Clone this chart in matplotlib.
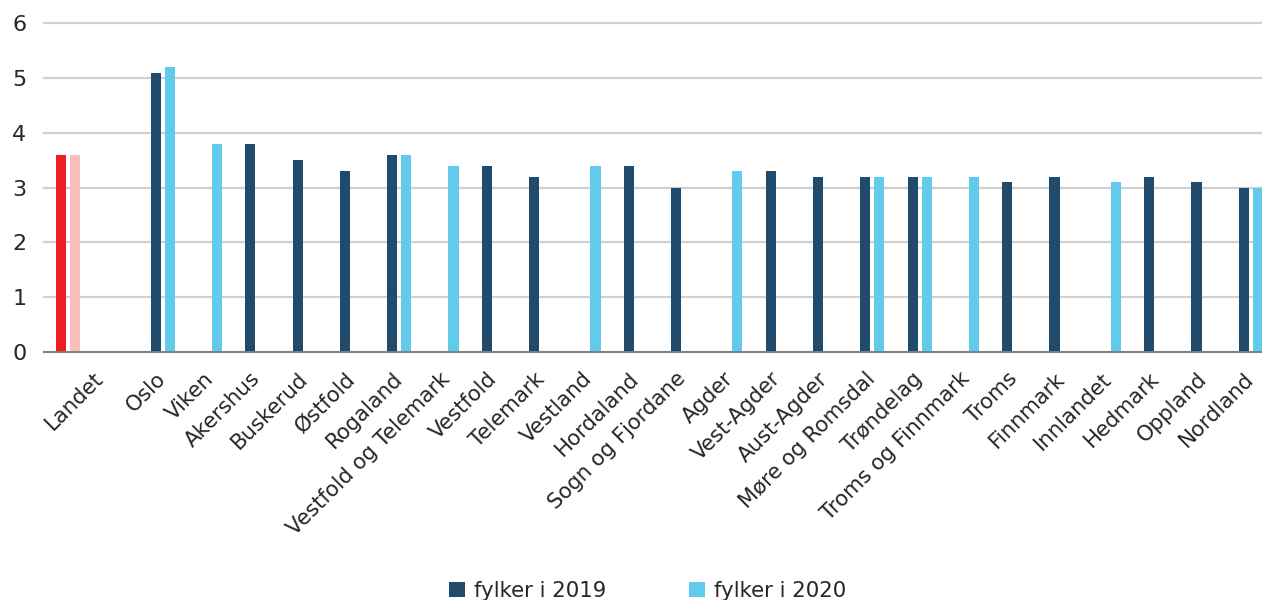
import numpy as np
import matplotlib
matplotlib.use("Agg")
import matplotlib.pyplot as plt
from matplotlib.patches import Patch

categories = ["Landet", "", "Oslo", "Viken", "Akershus", "Buskerud", "Østfold", "Rogaland",
              "Vestfold og Telemark", "Vestfold", "Telemark", "Vestland", "Hordaland",
              "Sogn og Fjordane", "Agder", "Vest-Agder", "Aust-Agder", "Møre og Romsdal",
              "Trøndelag", "Troms og Finnmark", "Troms", "Finnmark", "Innlandet",
              "Hedmark", "Oppland", "Nordland"]
nan = np.nan
fylker_2019 = [3.6, nan, 5.1, nan, 3.8, 3.5, 3.3, 3.6, nan, 3.4, 3.2, nan, 3.4, 3.0, nan,
               3.3, 3.2, 3.2, 3.2, nan, 3.1, 3.2, nan, 3.2, 3.1, 3.0]
fylker_2020 = [3.6, nan, 5.2, 3.8, nan, nan, nan, 3.6, 3.4, nan, nan, 3.4, nan, nan, 3.3,
               nan, nan, 3.2, 3.2, 3.2, nan, nan, 3.1, nan, nan, 3.0]
legend_labels = ["fylker i 2019", "fylker i 2020"]
yticks = [0, 1, 2, 3, 4, 5, 6]

DARK = "#214B6D"
LIGHT = "#62CBEC"
RED = "#EE1C25"
PINK = "#F7BEBE"
TXT = "#262626"

plt.rcParams["font.family"] = ["DejaVu Sans"]

fig = plt.figure(figsize=(12.62, 6.0), dpi=100)
ax = fig.add_axes([44.4 / 1262, 1 - 352 / 600, 1230 / 1262, (352 - 23.3) / 600])

x = np.arange(len(categories))
w = 0.215
off = 0.148
c19 = [RED] + [DARK] * (len(categories) - 1)
c20 = [PINK] + [LIGHT] * (len(categories) - 1)
ax.bar(x - off, fylker_2019, width=w, color=c19, zorder=3)
ax.bar(x + off, fylker_2020, width=w, color=c20, zorder=3)

ax.set_xlim(-0.5, len(categories) - 0.5)
ax.set_ylim(0, 6)
ax.set_yticks(yticks)
ax.yaxis.grid(True, color="#D0D0D0", linewidth=1.6, zorder=0)
for gl in ax.get_ygridlines():
    gl.set_clip_on(False)
ax.set_axisbelow(True)
for s in ["top", "right", "left"]:
    ax.spines[s].set_visible(False)
ax.spines["bottom"].set_color("#7F7F7F")
ax.spines["bottom"].set_linewidth(1.4)
ax.spines["bottom"].set_zorder(4)
ax.tick_params(axis="y", length=0, pad=13, labelsize=16, labelcolor=TXT)
ax.tick_params(axis="x", length=0, pad=17)

tickpos = x.astype(float).copy()
tickpos[0] = 0.68
ax.set_xticks(tickpos)
ax.set_xticklabels(categories, rotation=45, ha="right", va="center",
                   rotation_mode="anchor", fontsize=15.3, color=TXT)

handles = [Patch(facecolor=DARK), Patch(facecolor=LIGHT)]
fig.legend(handles, legend_labels, loc="center", bbox_to_anchor=(648 / 1262, 1 - 591 / 600),
           ncol=2, frameon=False, fontsize=15.3, handlelength=0.72, handleheight=0.72,
           handletextpad=0.45, columnspacing=3.9, labelcolor=TXT)

fig.savefig("out.png", dpi=100)
